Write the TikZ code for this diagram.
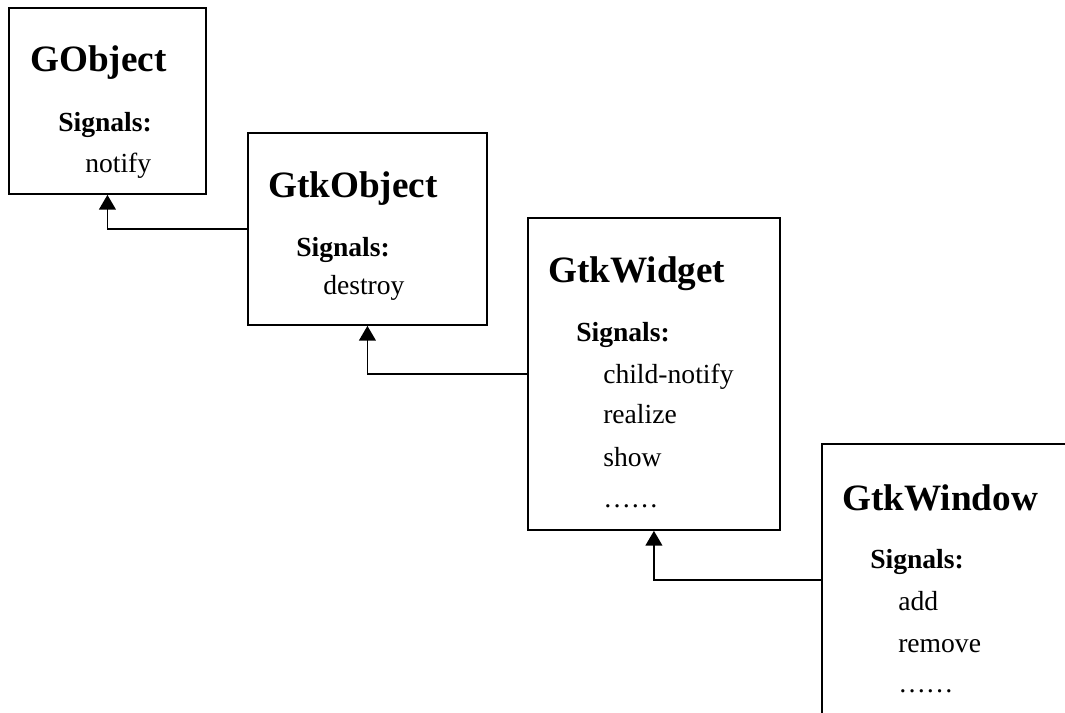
\documentclass[tikz,border=0pt]{standalone}
\usepackage{fontspec}
\setmainfont{Liberation Serif}
\usetikzlibrary{arrows.meta}
\begin{document}
\begin{tikzpicture}[x=0.75pt,y=-0.75pt,
  box/.style={draw,line width=1.4pt,rectangle,anchor=north west,inner sep=0pt},
  title/.style={anchor=base west,font=\fontsize{27.9}{30}\selectfont\bfseries,inner sep=0pt},
  sig/.style={anchor=base west,font=\fontsize{20.7}{24}\selectfont\bfseries,inner sep=0pt},
  item/.style={anchor=base west,font=\fontsize{20.7}{24}\selectfont,inner sep=0pt},
  conn/.style={line width=1.3pt,-{Triangle[width=12.5pt,length=11pt]}}]
\useasboundingbox (0,0) rectangle (1065,713);
\clip (0,0) rectangle (1065,713);
% boxes
\node[box,minimum width=147.75pt,minimum height=139.5pt] (gobj) at (8,7) {};
\node[box,minimum width=179.25pt,minimum height=144pt] (gtkobj) at (247,132) {};
\node[box,minimum width=189pt,minimum height=234pt] (widget) at (527,217) {};
\node[box,minimum width=194.25pt,minimum height=204pt] (window) at (821,443) {};
% GObject
\node[title] (t1) at (30,72) {GObject};
\node[sig] (s1) at (58,132) {Signals:};
\node[item] (i11) at (85,173) {notify};
% GtkObject
\node[title] (t2) at (268,198) {GtkObject};
\node[sig] (s2) at (296,257) {Signals:};
\node[item] (i21) at (323,295) {destroy};
% GtkWidget
\node[title] (t3) at (548,283) {GtkWidget};
\node[sig] (s3) at (576,342) {Signals:};
\node[item] (i31) at (603,383) {child-notify};
\node[item] (i32) at (603,423) {realize};
\node[item] (i33) at (603,466) {show};
\node[item] (i34) at (603,507) {……};
% GtkWindow
\node[title] (t4) at (842,510) {GtkWindow};
\node[sig] (s4) at (870,568) {Signals:};
\node[item] (i41) at (898,610) {add};
\node[item] (i42) at (898,652) {remove};
\node[item] (i43) at (898,692) {……};
% connectors
\draw[conn] (gtkobj.west) -| (gobj.south);
\draw[conn] (widget.west) -| (gtkobj.south);
\draw[conn] (window.west) -| (widget.south);
\end{tikzpicture}
\end{document}
